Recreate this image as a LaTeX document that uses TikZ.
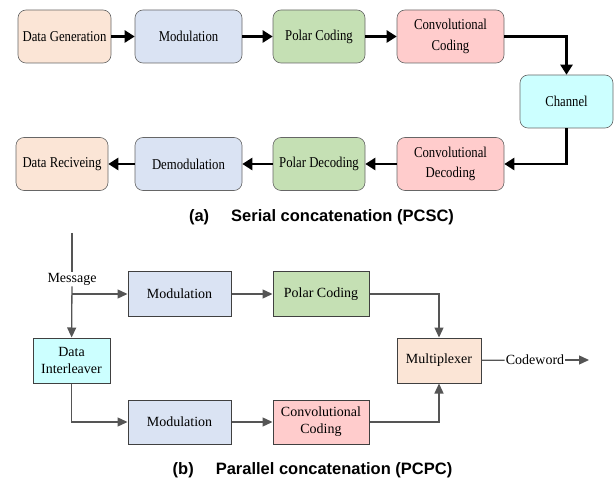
\documentclass[tikz,border=0pt]{standalone}
\usepackage{fontspec}
\setmainfont{Liberation Serif}
\newfontfamily\narrowfont{Liberation Serif}[FakeStretch=0.85]
\newfontfamily\capfont{Liberation Sans}
\usetikzlibrary{arrows.meta, positioning}
\definecolor{cGen}{HTML}{FBE5D6}
\definecolor{cMod}{HTML}{DAE3F3}
\definecolor{cPol}{HTML}{C5E0B4}
\definecolor{cConv}{HTML}{FFCCCC}
\definecolor{cChan}{HTML}{CCFFFF}
\definecolor{cLine}{HTML}{555555}

\begin{document}
\begin{tikzpicture}[
  x=1pt, y=-1pt,
  blk/.style={draw=black!60, rounded corners=8pt, align=center, inner sep=2pt,
              minimum height=53pt, line width=0.6pt, font=\narrowfont\fontsize{15}{20.5}\selectfont},
  pblk/.style={draw=black!75, align=center, inner sep=2pt, minimum height=44pt,
               line width=1pt, font=\fontsize{14}{17}\selectfont},
  arr/.style={-{Triangle[length=10pt, width=12pt]}, line width=2.4pt, draw=black},
  parr/.style={-{Triangle[length=10pt, width=9pt]}, line width=1.3pt, draw=cLine},
  lbl/.style={font=\fontsize{14}{15}\selectfont, inner sep=1pt},
  capt/.style={font=\capfont\bfseries\fontsize{16.5}{18}\selectfont}
]
\useasboundingbox (0,0) rectangle (616,481);

% (a) SERIAL
\node[blk, fill=cGen, minimum width=93pt] (dgen) at (64.5,36.5) {Data Generation};
\node[blk, fill=cMod, minimum width=107pt] (mod) at (188.5,36.5) {Modulation};
\node[blk, fill=cPol, minimum width=92pt] (pol) at (319,36.5) {Polar Coding};
\node[blk, fill=cConv, minimum width=107pt] (conv) at (450.5,36.5) {Convolutional\\Coding};
\node[blk, fill=cChan, minimum width=93pt] (chan) at (566.5,101.5) {Channel};
\node[blk, fill=cConv, minimum width=107pt] (cdec) at (450.5,164) {Convolutional\\Decoding};
\node[blk, fill=cPol, minimum width=92pt] (pdec) at (319,164) {Polar Decoding};
\node[blk, fill=cMod, minimum width=107pt] (demod) at (188.5,164) {Demodulation};
\node[blk, fill=cGen, minimum width=92pt] (drec) at (62,164) {Data Reciveing};

\draw[arr] (dgen) -- (mod);
\draw[arr] (mod) -- (pol);
\draw[arr] (pol) -- (conv);
\draw[arr] (conv.east) -| (chan.north);
\draw[arr] (chan.south) |- (cdec.east);
\draw[arr] (cdec) -- (pdec);
\draw[arr] (pdec) -- (demod);
\draw[arr] (demod) -- (drec);

\node[capt] (capa) at (321.5,217) {(a)\hspace{22pt}Serial concatenation (PCSC)};

% (b) PARALLEL
\coordinate (src) at (72,233);
\node[lbl] (msg) at (72,279) {Message};
\node[pblk, fill=cMod, minimum width=103pt] (mod1) at (179.5,294) {Modulation};
\node[pblk, fill=cPol, minimum width=96pt] (pc) at (321,294) {Polar Coding};
\node[pblk, fill=cChan, minimum width=77pt, minimum height=45pt] (inter) at (71.5,360.5) {Data\\Interleaver};
\node[pblk, fill=cMod, minimum width=103pt] (mod2) at (179.5,422) {Modulation};
\node[pblk, fill=cConv, minimum width=96pt] (cc) at (321,422) {Convolutional\\Coding};
\node[pblk, fill=cGen, minimum width=84pt, minimum height=45pt] (mux) at (439,360.5) {Multiplexer};
\node[lbl] (cw) at (535,360) {Codeword};
\coordinate (out) at (589,360);

\draw[line width=1.3pt, draw=cLine] (src) -- (msg);
\draw[parr] (msg) -- (inter);
\draw[parr] (msg.south |- mod1.west) -- (mod1.west);
\draw[parr] (mod1) -- (pc);
\draw[parr] (inter.south) |- (mod2.west);
\draw[parr] (mod2) -- (cc);
\draw[parr] (pc.east) -| (mux.north);
\draw[parr] (cc.east) -| (mux.south);
\draw[line width=1.3pt, draw=cLine] (mux) -- (cw);
\draw[parr] (cw) -- (out);

\node[capt] (capb) at (312.5,470) {(b)\hspace{22pt}Parallel concatenation (PCPC)};

\end{tikzpicture}
\end{document}
